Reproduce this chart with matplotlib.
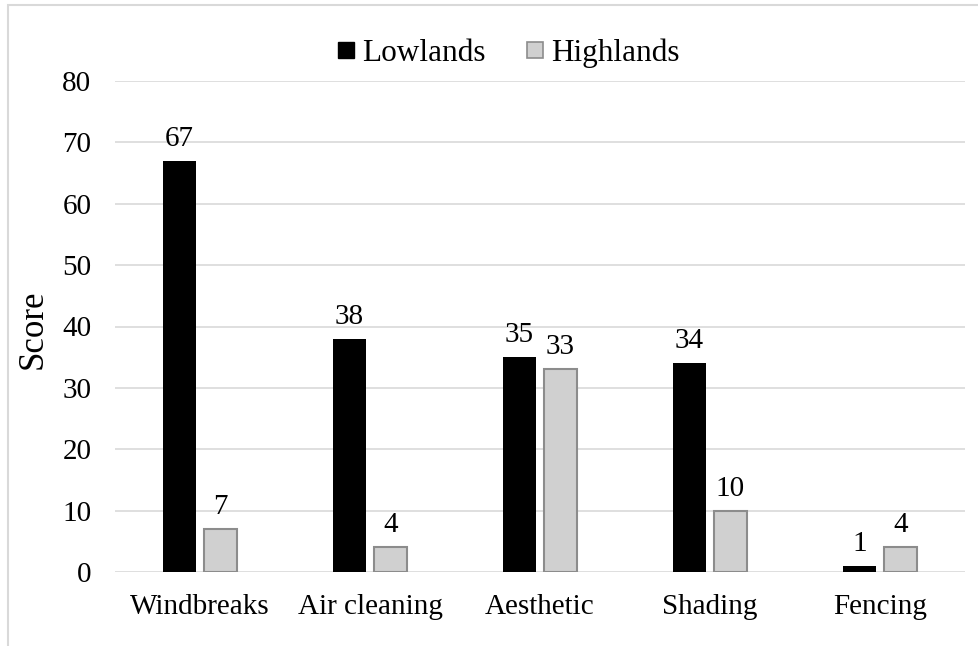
import matplotlib.pyplot as plt
from matplotlib.patches import Rectangle
from matplotlib.lines import Line2D
import numpy as np

plt.rcParams['font.family'] = ['Liberation Serif', 'DejaVu Serif']

categories = ['Windbreaks', 'Air cleaning', 'Aesthetic', 'Shading', 'Fencing']
lowlands = [67, 38, 35, 34, 1]
highlands = [7, 4, 33, 10, 4]

W, H = 979, 646
fs = 21
fig = plt.figure(figsize=(W / 100, H / 100), dpi=100)
ax = fig.add_axes([115 / W, (H - 572) / H, 850 / W, 491 / H])

x = np.arange(len(categories))
width = 0.195
off = 0.12
black = '#000000'
grey = '#d0d0d0'
grey_edge = '#8c8c8c'

b1 = ax.bar(x - off, lowlands, width, color=black, zorder=3)
b2 = ax.bar(x + off, highlands, width, color=grey, edgecolor=grey_edge,
            linewidth=1.5, zorder=3)

for bars in (b1, b2):
    for rect in bars:
        v = rect.get_height()
        ax.annotate(f'{v:g}', (rect.get_x() + rect.get_width() / 2, v),
                    xytext=(0, 6.5), textcoords='offset points',
                    ha='center', va='bottom', fontsize=fs)

ax.set_xlim(-0.5, len(categories) - 0.5)
ax.set_ylim(0, 80)
ax.set_yticks(range(0, 81, 10))
ax.set_xticks(x)
ax.set_xticklabels(categories)
ax.tick_params(axis='both', length=0, labelsize=fs)
ax.tick_params(axis='y', pad=17)
ax.tick_params(axis='x', pad=16)
ax.yaxis.grid(True, color='#d9d9d9', linewidth=1.2, zorder=0)
ax.set_axisbelow(True)
for s in ax.spines.values():
    s.set_visible(False)

fig.text(33 / W, 1 - 329 / H, 'Score', rotation=90, ha='center', va='center',
         fontsize=25)

handles = [
    Line2D([], [], marker='s', linestyle='none', markersize=11.5,
           markerfacecolor=black, markeredgecolor=black),
    Line2D([], [], marker='s', linestyle='none', markersize=11.5,
           markerfacecolor=grey, markeredgecolor=grey_edge, markeredgewidth=1.2),
]
fig.legend(handles, ['Lowlands', 'Highlands'], loc='center',
           bbox_to_anchor=(505 / W, 1 - 53 / H), ncol=2, frameon=False,
           fontsize=22.5, handletextpad=0.0, columnspacing=1.1,
           handlelength=1.0)

# outer chart border
fig.patches.append(Rectangle((8 / W, -0.2), 1.2, 1.2 - 5 / H,
                             transform=fig.transFigure, fill=False,
                             edgecolor='#d9d9d9', linewidth=1.5))

fig.savefig('out.png', dpi=100)
